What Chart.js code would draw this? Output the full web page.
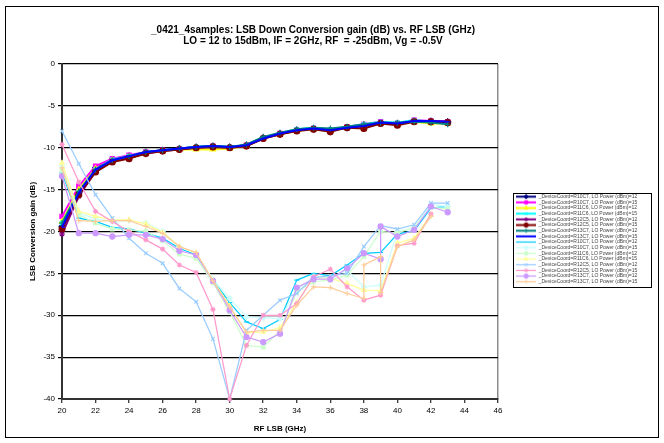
<!DOCTYPE html>
<html><head><meta charset="utf-8">
<script src="https://cdn.jsdelivr.net/npm/chart.js@4.4.1/dist/chart.umd.min.js"></script>
<style>
html,body{margin:0;padding:0;background:#fff;}
#wrap{position:relative;width:664px;height:443px;}
#frame{position:absolute;left:5px;top:6px;width:654px;height:432px;border:1px solid #000;box-sizing:border-box;pointer-events:none;}
canvas{display:block}
</style></head><body>
<div id="wrap"><canvas id="c" width="664" height="443"></canvas><div id="frame"></div></div>
<script>
const titleLines = ['_0421_4samples: LSB Down Conversion gain (dB) vs. RF LSB (GHz)', 'LO = 12 to 15dBm, IF = 2GHz, RF  = -25dBm, Vg = -0.5V'];
const xTitle = 'RF LSB (GHz)';
const yTitle = 'LSB Conversion gain (dB)';
const seriesLabels = [
 '_DeviceCoord=R10C7, LO Power (dBm)=12','_DeviceCoord=R10C7, LO Power (dBm)=15',
 '_DeviceCoord=R11C6, LO Power (dBm)=12','_DeviceCoord=R11C6, LO Power (dBm)=15',
 '_DeviceCoord=R12C5, LO Power (dBm)=12','_DeviceCoord=R12C5, LO Power (dBm)=15',
 '_DeviceCoord=R13C7, LO Power (dBm)=12','_DeviceCoord=R13C7, LO Power (dBm)=15',
 '_DeviceCoord=R10C7, LO Power (dBm)=12','_DeviceCoord=R10C7, LO Power (dBm)=15',
 '_DeviceCoord=R11C6, LO Power (dBm)=12','_DeviceCoord=R11C6, LO Power (dBm)=15',
 '_DeviceCoord=R12C5, LO Power (dBm)=12','_DeviceCoord=R12C5, LO Power (dBm)=15',
 '_DeviceCoord=R13C7, LO Power (dBm)=12','_DeviceCoord=R13C7, LO Power (dBm)=15'];

const freqs = [20,21,22,23,24,25,26,27,28,29,30,31,32,33,34,35,36,37,38,39,40,41,42,43];
const freqsLav = [20,21,22,23,24,25,26,27,28,29,30,31,32,33,34,35,36,37,38,39,39,40,41,42,43];
const freqsTan = [20,21,22,23,24,25,26,27,28,29,30,31,32,33,34,35,36,37,38,38,39,39,40,41,42];

// upper group
const s1 = [-19.4,-15.2,-12.4,-11.4,-11.0,-10.5,-10.3,-10.1,-9.9,-9.8,-9.9,-9.7,-8.8,-8.3,-7.9,-7.7,-7.9,-7.6,-7.3,-7.0,-7.1,-6.8,-6.8,-6.9];
const s2 = [-18.2,-14.6,-12.2,-11.3,-10.9,-10.5,-10.3,-10.1,-10.0,-9.8,-10.0,-9.7,-8.9,-8.3,-7.9,-7.7,-7.9,-7.5,-7.2,-6.9,-7.1,-6.7,-6.8,-6.9];
const s3 = [-18.8,-15.0,-12.5,-11.5,-11.1,-10.6,-10.4,-10.2,-10.2,-10.2,-10.1,-9.8,-8.9,-8.4,-8.0,-7.8,-8.0,-7.6,-7.4,-7.1,-7.2,-6.9,-7.1,-7.1];
const s4 = [-19.0,-15.3,-12.6,-11.4,-11.0,-10.5,-10.3,-10.1,-9.9,-9.8,-9.9,-9.7,-8.8,-8.3,-7.8,-7.6,-7.8,-7.5,-7.2,-6.9,-7.0,-6.7,-6.9,-7.0];
const s5 = [-20.3,-15.8,-12.8,-11.6,-11.2,-10.7,-10.4,-10.2,-10.0,-9.9,-10.0,-9.8,-8.9,-8.4,-7.9,-7.7,-7.9,-7.6,-7.4,-7.0,-7.1,-6.8,-6.8,-6.9];
const s6 = [-19.7,-15.6,-12.9,-11.7,-11.3,-10.7,-10.4,-10.2,-10.0,-9.9,-10.0,-9.8,-8.9,-8.4,-8.0,-7.8,-8.1,-7.6,-7.7,-7.1,-7.3,-6.9,-6.9,-7.0];
const s7 = [-19.0,-15.2,-12.6,-11.5,-11.0,-10.5,-10.3,-10.1,-9.9,-9.8,-9.9,-9.6,-8.7,-8.2,-7.8,-7.6,-7.7,-7.5,-7.2,-7.0,-7.0,-6.9,-7.0,-7.2];
const s8 = [-19.5,-15.4,-12.6,-11.5,-11.0,-10.5,-10.3,-10.1,-9.9,-9.8,-9.9,-9.7,-8.9,-8.3,-7.9,-7.7,-7.9,-7.6,-7.4,-7.0,-7.1,-6.8,-6.8,-6.9];
// lower group
const s9  = [-13.0,-18.4,-18.8,-19.5,-19.7,-20.2,-20.8,-22.0,-22.8,-25.8,-28.5,-30.8,-31.6,-30.5,-25.8,-25.0,-25.3,-24.0,-22.6,-22.5,-20.3,-19.9,-17.2,-17.0];
const s10 = [-12.2,-17.8,-18.5,-18.8,-18.7,-19.0,-20.0,-21.8,-22.6,-25.7,-28.0,-30.2,-30.3,-30.4,-27.0,-25.4,-25.5,-24.6,-26.6,-26.4,-20.0,-19.6,-16.8,-17.0];
const s11 = [-12.7,-18.0,-19.0,-19.7,-19.8,-20.0,-21.1,-22.7,-23.2,-26.1,-29.6,-33.6,-33.8,-31.8,-27.2,-26.0,-25.8,-25.2,-23.0,-20.0,-20.2,-19.5,-17.1,-17.3];
const s12 = [-11.8,-17.6,-18.2,-18.6,-18.6,-19.1,-20.1,-21.8,-22.6,-25.8,-28.9,-32.1,-32.0,-31.5,-28.5,-25.5,-25.6,-26.2,-27.0,-27.1,-21.4,-20.8,-18.0,null];
const s13 = [-8.0,-11.9,-15.6,-18.4,-20.8,-22.6,-23.8,-26.8,-28.4,-32.8,-40.0,-31.8,-30.0,-28.2,-27.4,-25.5,-25.3,-25.0,-21.8,-19.3,-19.7,-19.2,-16.6,-16.6];
const s14 = [-9.6,-14.1,-17.6,-18.8,-20.0,-21.0,-22.1,-24.0,-24.9,-29.3,-40.0,-33.6,-30.0,-30.0,-28.6,-25.4,-24.5,-26.6,-28.2,-27.6,-21.7,-21.4,-17.9,null];
const s15 = [-13.4,-20.2,-20.2,-20.6,-20.4,-20.4,-20.9,-22.3,-22.8,-25.9,-29.4,-32.6,-33.2,-32.2,-26.7,-25.7,-25.7,-24.4,-22.6,-23.3,-19.4,-20.6,-19.8,-17.0,-17.7];
const s16 = [-12.4,-18.7,-18.8,-18.7,-18.7,-19.4,-20.2,-21.8,-22.5,-25.9,-29.0,-32.0,-31.8,-31.8,-28.8,-26.6,-26.7,-27.4,-28.0,-24.0,-23.0,-27.3,-21.8,-21.0,-18.2];

const seriesValues = [s1,s2,s3,s4,s5,s6,s7,s8,s9,s10,s11,s12,s13,s14,s15,s16];
const seriesX = [freqs,freqs,freqs,freqs,freqs,freqs,freqs,freqs,freqs,freqs,freqs,freqs,freqs,freqs,freqsLav,freqsTan];

const colors = ['#000080','#FF00FF','#FFFF00','#00FFFF','#800080','#800000','#008080','#0000FF',
                '#00CCFF','#CCFFFF','#CCFFCC','#FFFF99','#99CCFF','#FF99CC','#CC99FF','#FFCC99'];
const markers = ['rectRot','rect','triangle','crossRot','star','circle','cross','dash',
                 'line','rectRot','rect','triangle','crossRot','star','circle','cross'];

const FONT = "'Liberation Sans', Arial, sans-serif";

function makeIcon(color, style, lw, r){
  const c = document.createElement('canvas');
  c.width = 20; c.height = 7;
  const g = c.getContext('2d');
  g.strokeStyle = color; g.fillStyle = color; g.lineWidth = lw;
  g.beginPath(); g.moveTo(0,3.5); g.lineTo(20,3.5); g.stroke();
  g.lineWidth = 1;
  Chart.helpers.drawPoint(g, {pointStyle: style, radius: r, rotation: 0, borderWidth: 1}, 10, 3.5);
  return c;
}

const datasets = seriesValues.map((vals, i) => {
  const upper = i < 8;
  return {
    label: seriesLabels[i],
    data: seriesX[i].map((f, k) => ({x: f, y: vals[k]})).filter(p => p.y !== null && p.y !== undefined),
    borderColor: colors[i],
    backgroundColor: colors[i],
    pointBackgroundColor: colors[i],
    pointBorderColor: colors[i],
    borderWidth: upper ? 2 : 1.25,
    pointRadius: upper ? 3 : 2.6,
    pointBorderWidth: 1.1,
    pointStyle: markers[i],
    showLine: true,
    tension: 0,
    clip: 6,
    order: 16 - i
  };
});

const legendIcons = datasets.map((d, i) => makeIcon(colors[i], markers[i], i < 8 ? 2 : 1.25, 2.2));

const frameBits = {
  id: 'frameBits',
  afterLayout(chart){
    const lg = chart.legend;
    const w = lg.width;
    lg.left = 515.5; lg.right = 515.5 + w;
    lg.top = 193.5; lg.bottom = 193.5 + 100;
  },
  afterDraw(chart){
    const ctx = chart.ctx;
    ctx.save();
    ctx.strokeStyle = '#000';
    ctx.lineWidth = 1;
    ctx.strokeRect(513.5, 193.5, 138, 94);
    ctx.restore();
  }
};

new Chart(document.getElementById('c'), {
  type: 'scatter',
  data: { datasets },
  options: {
    responsive: false,
    animation: false,
    layout: { padding: { left: 0, right: 38, top: 0, bottom: 0 } },
    plugins: {
      title: {
        display: true, text: titleLines, color: '#000',
        font: { family: FONT, size: 10, weight: 'bold', lineHeight: 1.1 },
        padding: { top: 25, bottom: 17 }
      },
      legend: {
        display: true, position: 'right', align: 'start', maxWidth: 128,
        labels: {
          usePointStyle: true, pointStyleWidth: 20, padding: 0.67,
          font: { family: FONT, size: 5 }, color: '#444',
          generateLabels: (chart) => chart.data.datasets.map((ds, i) => ({
            text: ds.label, pointStyle: legendIcons[i], fillStyle: colors[i], strokeStyle: colors[i],
            lineWidth: 0, hidden: false, datasetIndex: i, fontColor: '#444'
          }))
        }
      },
      tooltip: { enabled: false }
    },
    scales: {
      x: {
        type: 'linear', min: 20, max: 46,
        ticks: { stepSize: 2, color: '#000', font: { family: FONT, size: 8 }, padding: 3 },
        grid: {
          color: (c) => (c.tick && c.tick.value === 46) ? '#8c8c8c' : 'rgba(0,0,0,0)',
          lineWidth: 1.5, tickColor: '#000', tickLength: 4, tickWidth: 1
        },
        border: { color: '#333', width: 2 },
        title: { display: true, text: xTitle, color: '#000', font: { family: FONT, size: 8, weight: 'bold' }, padding: { top: 0, bottom: 9.6 } },
        afterFit: (s) => { s.height = 44; }
      },
      y: {
        type: 'linear', min: -40, max: 0,
        ticks: { stepSize: 5, color: '#000', font: { family: FONT, size: 8 }, padding: 3 },
        grid: { color: '#000', lineWidth: 1.2, tickColor: '#000', tickLength: 4 },
        border: { color: '#333', width: 2 },
        title: { display: true, text: yTitle, color: '#000', font: { family: FONT, size: 8, weight: 'bold' }, padding: { top: 27.6, bottom: 0 } },
        afterFit: (s) => { s.width = 62; }
      }
    }
  },
  plugins: [frameBits]
});
</script>
</body></html>
